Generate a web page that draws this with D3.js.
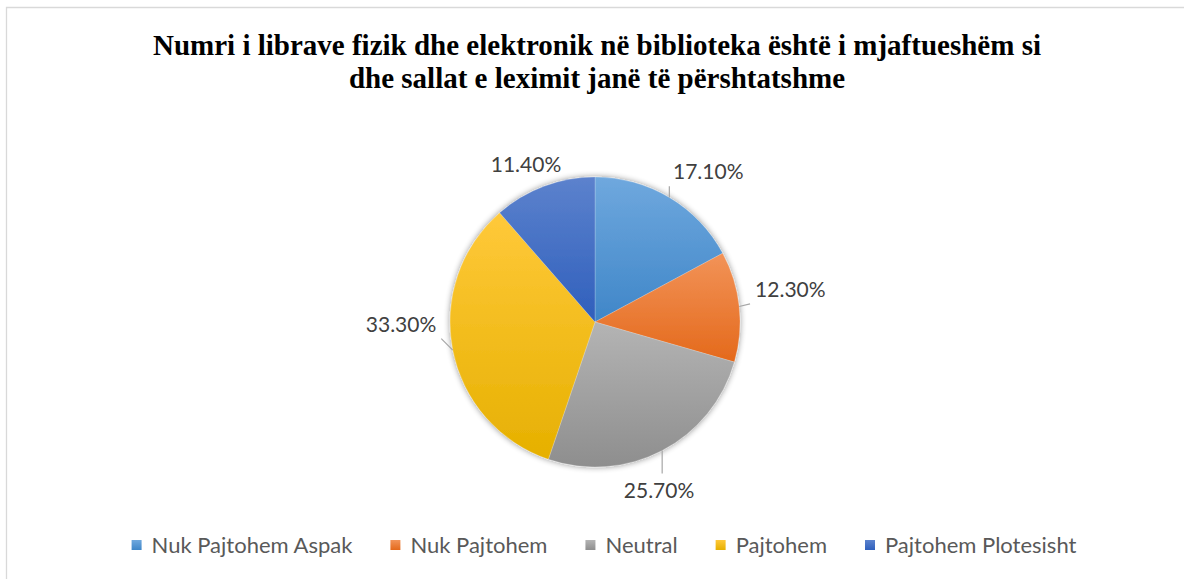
<!DOCTYPE html>
<html><head><meta charset="utf-8">
<script src="https://cdn.jsdelivr.net/npm/d3@7/dist/d3.min.js"></script>
<style>html,body{margin:0;padding:0;background:#fff;}svg{display:block;}</style>
</head><body>
<svg id="chart" width="1184" height="579"></svg>
<script>
// ---- data ----
const categories = ["Nuk Pajtohem Aspak", "Nuk Pajtohem", "Neutral", "Pajtohem", "Pajtohem Plotesisht"];
const values = [17.1, 12.3, 25.7, 33.3, 11.4];
const valueLabels = ["17.10%", "12.30%", "25.70%", "33.30%", "11.40%"];
const titleLines = ["Numri i librave fizik dhe elektronik në biblioteka është i mjaftueshëm si",
                    "dhe sallat e leximit janë të përshtatshme"];
// ---- style / layout ----
const baseColors = ["#5B9BD5", "#ED7D31", "#A5A5A5", "#FFC000", "#4472C4"];
const topColors  = ["#6fa8de", "#f29358", "#b4b4b4", "#ffc93a", "#5c82cd"];
const botColors  = ["#3f86c8", "#e4691b", "#8e8e8e", "#e6b000", "#2f5fbc"];
const labelAngleNudge = [6.2, -3.3, 6.75, 10.5, -3.1]; // degrees from slice mid-angle (Excel best fit)
const labelDist = [188, 198, 180, 194, 172];

const W = 1184, H = 579;
const cx = 595, cy = 322, R = 145;
const svg = d3.select("#chart");
const defs = svg.append("defs");

// border (chart area frame)
svg.append("path").attr("d", `M6.5,${H+5} V7.5 H${W+5}`)
  .attr("fill", "none").attr("stroke", "#d9d9d9").attr("stroke-width", 1.3);

// gradients
baseColors.forEach((c, i) => {
  const g = defs.append("linearGradient").attr("id", "g" + i)
    .attr("x1", 0).attr("y1", 0).attr("x2", 0).attr("y2", 1);
  g.append("stop").attr("offset", "0%").attr("stop-color", topColors[i]);
  g.append("stop").attr("offset", "100%").attr("stop-color", botColors[i]);
});
const f = defs.append("filter").attr("id", "shadow").attr("x", "-20%").attr("y", "-20%").attr("width", "140%").attr("height", "140%");
f.append("feGaussianBlur").attr("in", "SourceAlpha").attr("stdDeviation", 3).attr("result", "b");
f.append("feOffset").attr("in", "b").attr("dx", 0).attr("dy", 0).attr("result", "o");
f.append("feComponentTransfer").attr("in", "o").attr("result", "o2")
  .append("feFuncA").attr("type", "linear").attr("slope", 0.45);
const fm = f.append("feMerge");
fm.append("feMergeNode").attr("in", "o2");
fm.append("feMergeNode").attr("in", "SourceGraphic");

// title
const title = svg.append("text").attr("text-anchor", "middle")
  .attr("font-family", "'Liberation Serif','Times New Roman',serif")
  .attr("font-weight", "bold").attr("font-size", 29).attr("fill", "#000");
titleLines.forEach((t, i) => {
  title.append("tspan").attr("x", 597).attr("y", 55 + i * 33).text(t);
});

// pie
const pie = d3.pie().sort(null).value(d => d)(values);
const arc = d3.arc().innerRadius(0).outerRadius(R);
const g = svg.append("g").attr("transform", `translate(${cx},${cy})`);
const slices = g.append("g").attr("filter", "url(#shadow)");
slices.selectAll("path").data(pie).join("path")
  .attr("d", arc)
  .attr("fill", (d, i) => `url(#g${i})`)
  .attr("stroke", "rgba(255,255,255,0.35)").attr("stroke-width", 0.6);

// labels
const labelFont = "Lato, 'Open Sans', sans-serif";
pie.forEach((d, i) => {
  const mid = (d.startAngle + d.endAngle) / 2;
  const la = mid + labelAngleNudge[i] * Math.PI / 180;
  const lx = labelDist[i] * Math.sin(la), ly = -labelDist[i] * Math.cos(la);
  const t = g.append("text").attr("x", lx).attr("y", ly).attr("dy", "0.35em")
    .attr("text-anchor", "middle").attr("font-family", labelFont).attr("font-size", 21)
    .attr("fill", "#404040").text(valueLabels[i]);
  const bb = t.node().getBBox();
  // leader line from slice edge to nearest point of label box
  const sx = R * Math.sin(mid), sy = -R * Math.cos(mid);
  const pad = 5;
  const ex = Math.max(bb.x - pad, Math.min(sx, bb.x + bb.width + pad));
  const ey = Math.max(bb.y + 2 - pad, Math.min(sy, bb.y + bb.height - 2 + pad));
  const len = Math.hypot(ex - sx, ey - sy);
  if (len > 9) {
    g.append("line").attr("x1", sx).attr("y1", sy).attr("x2", ex).attr("y2", ey)
      .attr("stroke", "#a6a6a6").attr("stroke-width", 1.2);
  }
});

// legend
const legend = svg.append("g").attr("font-family", labelFont).attr("font-size", 22).attr("fill", "#595959");
const items = legend.selectAll("g").data(categories).join("g");
items.append("rect").attr("width", 10).attr("height", 10).attr("y", -13)
  .attr("fill", (d, i) => `url(#g${i})`);
items.append("text").attr("x", 20).attr("y", 0).text(d => d);
let xpos = 0;
const gap = 38;
const offs = [];
items.each(function () {
  offs.push(xpos);
  const w = d3.select(this).select("text").node().getComputedTextLength();
  xpos += 20 + w + gap;
});
const total = xpos - gap;
const lx0 = 604 - total / 2;
items.attr("transform", (d, i) => `translate(${lx0 + offs[i]},553)`);
</script>
</body></html>
